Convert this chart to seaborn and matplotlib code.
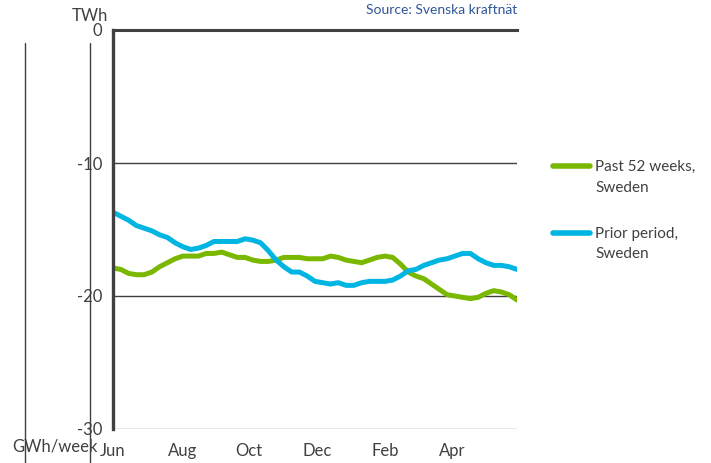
import matplotlib
matplotlib.use("Agg")
import matplotlib.pyplot as plt
import seaborn as sns
import pandas as pd
import numpy as np
from matplotlib.lines import Line2D
from matplotlib.legend_handler import HandlerLine2D

weeks = list(range(53))
past_52 = [-17.9, -18.0, -18.3, -18.4, -18.4, -18.2, -17.8, -17.5, -17.2, -17.0,
           -17.0, -17.0, -16.8, -16.8, -16.7, -16.9, -17.1, -17.1, -17.3, -17.4,
           -17.4, -17.3, -17.1, -17.1, -17.1, -17.2, -17.2, -17.2, -17.0, -17.1,
           -17.3, -17.4, -17.5, -17.3, -17.1, -17.0, -17.1, -17.6, -18.2, -18.5,
           -18.7, -19.1, -19.5, -19.9, -20.0, -20.1, -20.2, -20.1, -19.8, -19.6,
           -19.7, -19.9, -20.3]
prior = [-13.7, -14.0, -14.3, -14.7, -14.9, -15.1, -15.4, -15.6, -16.0, -16.3,
         -16.5, -16.4, -16.2, -15.9, -15.9, -15.9, -15.9, -15.7, -15.8, -16.0,
         -16.6, -17.3, -17.8, -18.2, -18.2, -18.5, -18.9, -19.0, -19.1, -19.0,
         -19.2, -19.2, -19.0, -18.9, -18.9, -18.9, -18.8, -18.5, -18.1, -18.0,
         -17.7, -17.5, -17.3, -17.2, -17.0, -16.8, -16.8, -17.2, -17.5, -17.7,
         -17.7, -17.8, -18.0]
series_names = ["Past 52 weeks,\nSweden", "Prior period,\nSweden"]
month_labels = ["Jun", "Aug", "Oct", "Dec", "Feb", "Apr"]
month_pos = [0, 8.9, 17.5, 26.3, 35.0, 43.6]
y_ticks = [0, -10, -20, -30]

df = pd.DataFrame({
    "week": weeks * 2,
    "value": past_52 + prior,
    "series": [series_names[0]] * len(weeks) + [series_names[1]] * len(weeks),
})

sns.set_style("white")
plt.rcParams["font.family"] = ["Lato", "DejaVu Sans"]
txt = "#404040"

fig = plt.figure(figsize=(7.11, 4.63), dpi=100)
ax = fig.add_axes([113 / 711, 1 - 429 / 463, 404 / 711, 399 / 463])

palette = {series_names[0]: "#7AB800", series_names[1]: "#00B5E2"}
sns.lineplot(data=df, x="week", y="value", hue="series", palette=palette,
             linewidth=3.6, ax=ax, legend=False, solid_capstyle="round")

ax.set_xlim(0, 52)
ax.set_ylim(-30, 0)
ax.set_yticks(y_ticks)
ax.set_yticklabels([str(v) for v in y_ticks], color=txt, fontsize=12)
ax.set_xticks(month_pos)
ax.set_xticklabels(month_labels, color=txt, fontsize=12)
ax.tick_params(axis="x", length=0, pad=10)
ax.tick_params(axis="y", length=5, width=1.2, color=txt, pad=3, direction="out")
ax.set_xlabel("")
ax.set_ylabel("")

for v in [-10, -20]:
    ax.axhline(v, color=txt, linewidth=1.0, zorder=0)
ax.axhline(-30, color="#888888", linewidth=1.0, zorder=0)

for s in ["right", "bottom"]:
    ax.spines[s].set_visible(False)
ax.spines["top"].set_color(txt)
ax.spines["top"].set_linewidth(2.2)
ax.spines["left"].set_color(txt)
ax.spines["left"].set_linewidth(2.4)

# decorative vertical lines at left (secondary axis remnants)
for xp in [25, 90]:
    fig.add_artist(Line2D([xp / 711, xp / 711], [0, 1 - 43 / 463],
                          transform=fig.transFigure, color=txt, linewidth=1.0))

fig.text(90 / 711, 1 - 16 / 463, "TWh", ha="center", va="center", color=txt, fontsize=12)
fig.text(55 / 711, 1 - 447 / 463, "GWh/week", ha="center", va="center", color=txt, fontsize=12)
fig.text(517 / 711, 1 - 10 / 463, "Source: Svenska kraftnät", ha="right", va="center",
         color="#2F5597", fontsize=10)


class FirstLineHandler(HandlerLine2D):
    """Place the legend line at the height of the first text line."""
    def __init__(self, offset, **kw):
        super().__init__(**kw)
        self.offset = offset

    def create_artists(self, legend, orig_handle, xdescent, ydescent, width,
                       height, fontsize, trans):
        arts = super().create_artists(legend, orig_handle, xdescent, ydescent,
                                      width, height, fontsize, trans)
        for a in arts:
            a.set_ydata(np.asarray(a.get_ydata()) + self.offset)
        return arts


handles = [Line2D([0], [0], color=palette[n], linewidth=4.0, solid_capstyle="round")
           for n in series_names]
leg = fig.legend(handles, series_names, loc="upper left",
                 bbox_to_anchor=(553 / 711, 1 - 160 / 463), frameon=False,
                 borderpad=0, borderaxespad=0,
                 fontsize=11, labelcolor=txt, handlelength=2.4, handletextpad=0.35,
                 labelspacing=2.1,
                 handler_map={Line2D: FirstLineHandler(offset=8.2)})
for t in leg.get_texts():
    t.set_linespacing(1.6)

fig.savefig("out.png", dpi=100)
